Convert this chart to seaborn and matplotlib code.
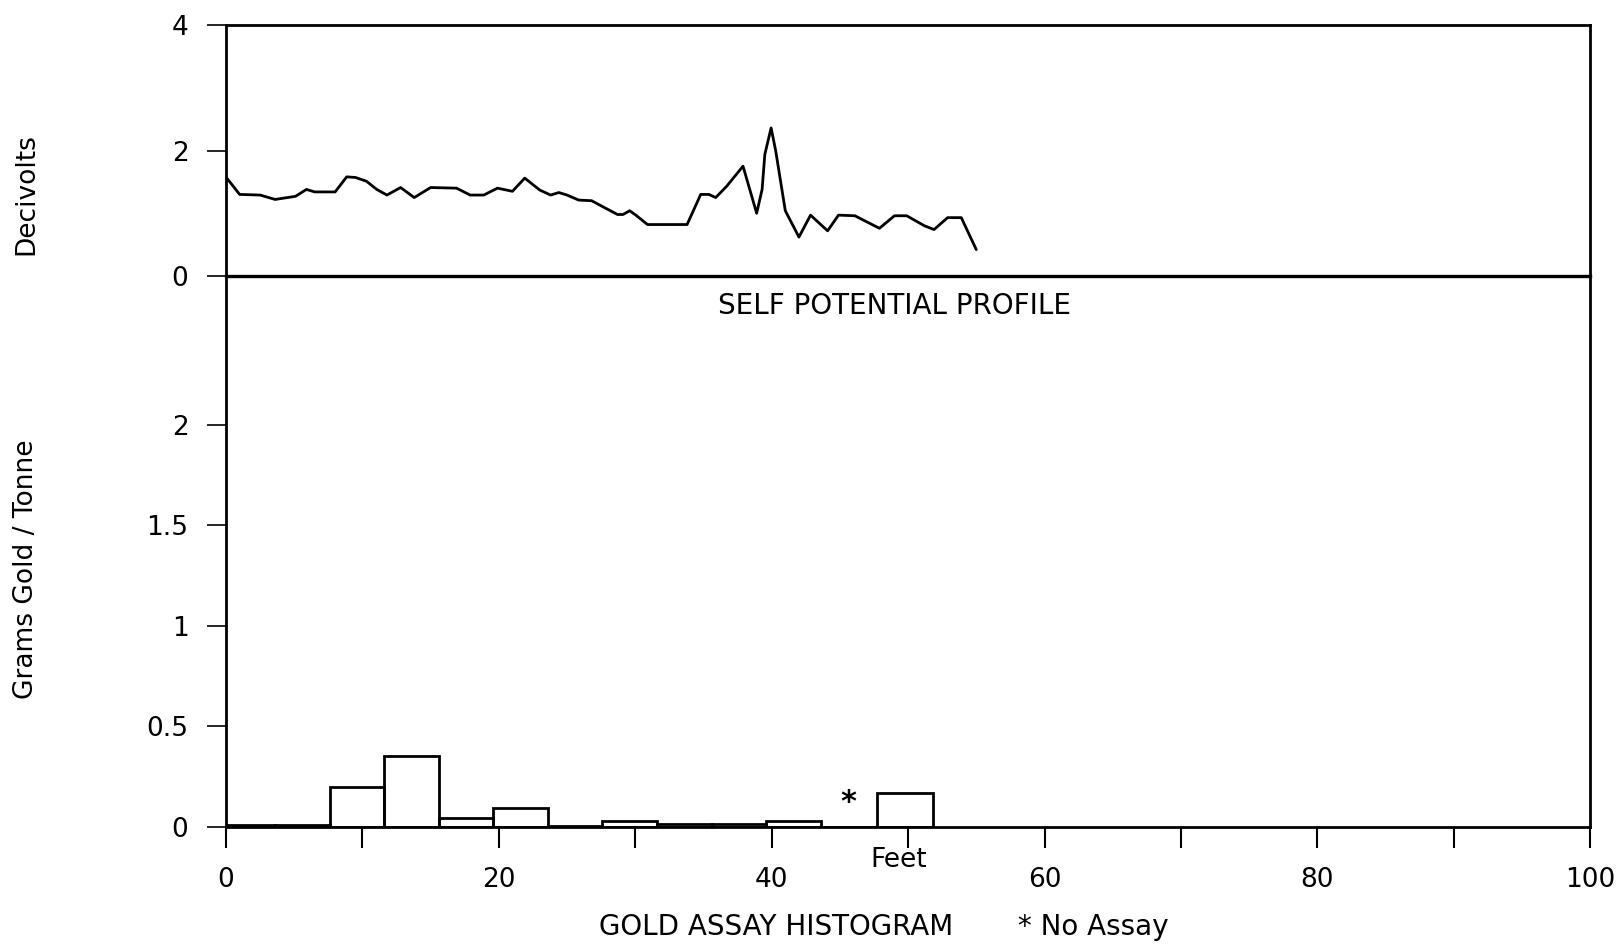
import matplotlib
matplotlib.use("Agg")
import matplotlib.pyplot as plt
import seaborn as sns
import numpy as np
import pandas as pd

# self potential profile (feet, decivolts)
sp_feet = [0.1, 1.0, 2.5, 3.6, 5.1, 5.9, 6.5, 8.0, 8.85, 9.5, 10.3, 11.05, 11.8,
           12.8, 13.8, 15.0, 16.9, 17.9, 18.9, 19.9, 21.0, 21.9, 23.0, 23.8,
           24.4, 25.0, 25.85, 26.8, 27.4, 28.7, 29.1, 29.6, 30.1, 30.9, 33.8,
           34.8, 35.4, 35.9, 36.7, 37.9, 38.9, 39.3, 39.5, 39.96, 40.3, 41.0,
           42.0, 42.85, 44.1, 44.9, 46.1, 47.9, 49.0, 49.9, 51.2, 51.9, 52.9,
           53.9, 55.0]
sp_decivolts = [1.55, 1.30, 1.29, 1.22, 1.27, 1.38, 1.34, 1.34, 1.58, 1.57, 1.51,
                1.38, 1.29, 1.41, 1.25, 1.41, 1.40, 1.29, 1.29, 1.40, 1.35, 1.56,
                1.37, 1.29, 1.33, 1.29, 1.21, 1.20, 1.13, 0.98, 0.98, 1.04, 0.96,
                0.82, 0.82, 1.30, 1.30, 1.25, 1.43, 1.75, 1.00, 1.38, 1.94, 2.36,
                1.99, 1.04, 0.62, 0.97, 0.72, 0.97, 0.96, 0.76, 0.96, 0.96, 0.80,
                0.74, 0.93, 0.93, 0.42]

# gold assay histogram (bin edges in feet, grams/tonne)
assay_edges = [0, 3.6, 7.6, 11.6, 15.6, 19.6, 23.6, 27.6, 31.6, 35.6, 39.6,
               43.6, 47.7, 51.8]
assay_grams = [0.008, 0.008, 0.20, 0.355, 0.045, 0.095, 0.006, 0.03, 0.015,
               0.015, 0.03, 0.0, 0.17]
no_assay_feet = 45.6
no_assay_level = 0.12

x_ticks = [0, 20, 40, 60, 80, 100]
sp_ticks = [0, 2, 4]
au_ticks = [0, 0.5, 1, 1.5, 2]
au_labels = ["0", "0.5", "1", "1.5", "2"]

sns.set_theme(style="white")
plt.rcParams["font.family"] = ["DejaVu Sans"]
plt.rcParams.update({"text.color": "black", "axes.labelcolor": "black",
                     "xtick.color": "black", "ytick.color": "black"})
FS = 19

fig = plt.figure(figsize=(16.21, 9.52), dpi=100)
L, R = 0.1394, 0.981
ax2 = fig.add_axes([L, 0.1313, R - L, 0.7101 - 0.1313])
ax1 = fig.add_axes([L, 0.7101, R - L, 0.9737 - 0.7101])
ax1.patch.set_alpha(0)
ax2.patch.set_alpha(0)

df_sp = pd.DataFrame({"feet": sp_feet, "dv": sp_decivolts})
sns.lineplot(data=df_sp, x="feet", y="dv", ax=ax1, color="black",
             linewidth=2.0, sort=False, estimator=None)

mids = [(a + b) / 2 for a, b in zip(assay_edges[:-1], assay_edges[1:])]
sns.histplot(x=mids, weights=assay_grams, bins=assay_edges, ax=ax2,
             fill=False, color="black", linewidth=2.0, element="bars")
ax2.text(no_assay_feet, no_assay_level, "*", ha="center", va="center",
         fontsize=22, fontweight="bold", color="black")

for ax in (ax1, ax2):
    ax.set_xlim(0, 100)
    ax.set_xlabel("")
    ax.set_ylabel("")
    for s in ax.spines.values():
        s.set_color("black")
        s.set_linewidth(2.0)
    ax.tick_params(axis="y", direction="out", length=14, width=1.2,
                   labelsize=FS, pad=13, left=True)

ax1.set_ylim(0, 4)
ax1.set_yticks(sp_ticks)
ax1.set_yticklabels([str(t) for t in sp_ticks])
ax1.tick_params(axis="x", bottom=False, labelbottom=False)
ax1.spines["bottom"].set_linewidth(2.4)

ax2.set_ylim(0, 2.74)
ax2.set_yticks(au_ticks)
ax2.set_yticklabels(au_labels)
ax2.spines["top"].set_visible(False)
ax2.set_xticks(x_ticks)
ax2.set_xticklabels([str(t) for t in x_ticks])
ax2.set_xticks([10, 30, 50, 70, 90], minor=True)
ax2.tick_params(axis="x", which="both", direction="out", length=15, width=1.5,
                labelsize=FS, pad=14, bottom=True)

fig.text(894 / 1621, 1 - 306 / 952, "SELF POTENTIAL PROFILE", ha="center",
         va="center", fontsize=FS + 1)
fig.text(899 / 1621, 1 - 860 / 952, "Feet", ha="center", va="center", fontsize=FS)
fig.text(776 / 1621, 1 - 927 / 952, "GOLD ASSAY HISTOGRAM", ha="center",
         va="center", fontsize=FS + 1)
fig.text(1093 / 1621, 1 - 927 / 952, "* No Assay", ha="center", va="center",
         fontsize=FS + 1)
fig.text(26 / 1621, 1 - 194 / 952, "Decivolts", rotation=90, ha="center",
         va="center", fontsize=FS)
fig.text(26 / 1621, 1 - 569 / 952, "Grams Gold / Tonne", rotation=90,
         ha="center", va="center", fontsize=FS)

plt.savefig("out.png", dpi=100)
plt.close("all")
